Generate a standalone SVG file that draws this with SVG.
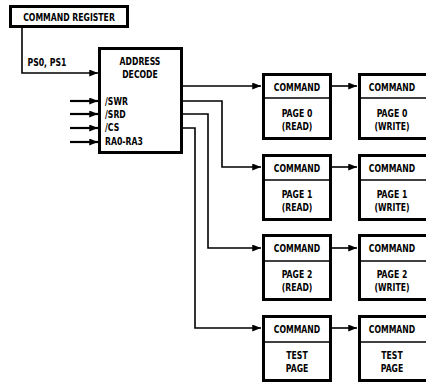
<svg xmlns="http://www.w3.org/2000/svg" width="426" height="383" viewBox="0 0 426 383">
<defs>
<marker id="ah" viewBox="0 0 10 8" refX="10" refY="4" markerWidth="9" markerHeight="7" markerUnits="userSpaceOnUse" orient="auto">
<path d="M0,0 L10,4 L0,8 z" fill="#000"/>
</marker>
<style>
.box{fill:#fff;stroke:#000;stroke-width:3}
.div{stroke:#000;stroke-width:1.6}
.ln{fill:none;stroke:#000;stroke-width:1.6}
.in{fill:none;stroke:#000;stroke-width:2.2}
text{font-family:"DejaVu Sans Condensed","Liberation Sans",sans-serif;font-weight:bold;font-size:10px;fill:#000;transform-box:fill-box;transform:scaleX(0.86)}
.c{text-anchor:middle;transform-origin:center}
.l{transform-origin:left center}
</style>
</defs>
<rect width="426" height="383" fill="#fff"/>
<g id="command-register">
<rect class="box" x="10.5" y="6.5" width="117" height="20"/>
<text class="c" x="69" y="21">COMMAND REGISTER</text>
</g>
<g id="address-decode">
<rect class="box" x="99.5" y="48.5" width="82" height="104"/>
<text class="c" x="140" y="65">ADDRESS</text>
<text class="c" x="140" y="78">DECODE</text>
<text class="l" x="105" y="105.5">/SWR</text>
<text class="l" x="105" y="118.5">/SRD</text>
<text class="l" x="105" y="131.5">/CS</text>
<text class="l" x="105" y="145">RA0-RA3</text>
</g>
<g id="connectors">
<path class="ln" d="M22,27 V73 H98" marker-end="url(#ah)"/>
<text class="l" x="27.5" y="66">PS0, PS1</text>
<path class="in" d="M70,101 H98" marker-end="url(#ah)"/>
<path class="in" d="M70,114 H98" marker-end="url(#ah)"/>
<path class="in" d="M70,128 H98" marker-end="url(#ah)"/>
<path class="in" d="M70,142 H98" marker-end="url(#ah)"/>
<path class="ln" d="M183,86 H261" marker-end="url(#ah)"/>
<path class="ln" d="M183,101 H222 V167 H261" marker-end="url(#ah)"/>
<path class="ln" d="M183,114 H208 V248 H261" marker-end="url(#ah)"/>
<path class="ln" d="M183,128 H195 V328 H261" marker-end="url(#ah)"/>
<path class="ln" d="M332,86 H357" marker-end="url(#ah)"/>
<path class="ln" d="M332,167 H357" marker-end="url(#ah)"/>
<path class="ln" d="M332,248 H357" marker-end="url(#ah)"/>
<path class="ln" d="M332,328 H357" marker-end="url(#ah)"/>
</g>
<g id="page0-read">
<rect class="box" x="263.5" y="74.5" width="67" height="64"/>
<line class="div" x1="263" y1="98" x2="331" y2="98"/>
<text class="c" x="297" y="91.5">COMMAND</text>
<text class="c" x="297" y="117.5">PAGE 0</text>
<text class="c" x="297" y="130">(READ)</text>
</g>
<g id="page0-write">
<rect class="box" x="359.5" y="74.5" width="70" height="64"/>
<line class="div" x1="359" y1="98" x2="430" y2="98"/>
<text class="c" x="392" y="91.5">COMMAND</text>
<text class="c" x="392" y="117.5">PAGE 0</text>
<text class="c" x="392" y="130">(WRITE)</text>
</g>
<g id="page1-read">
<rect class="box" x="263.5" y="155.5" width="67" height="64"/>
<line class="div" x1="263" y1="180" x2="331" y2="180"/>
<text class="c" x="297" y="172.5">COMMAND</text>
<text class="c" x="297" y="198.5">PAGE 1</text>
<text class="c" x="297" y="211">(READ)</text>
</g>
<g id="page1-write">
<rect class="box" x="359.5" y="155.5" width="70" height="64"/>
<line class="div" x1="359" y1="180" x2="430" y2="180"/>
<text class="c" x="392" y="172.5">COMMAND</text>
<text class="c" x="392" y="198.5">PAGE 1</text>
<text class="c" x="392" y="211">(WRITE)</text>
</g>
<g id="page2-read">
<rect class="box" x="263.5" y="235.5" width="67" height="64"/>
<line class="div" x1="263" y1="261" x2="331" y2="261"/>
<text class="c" x="297" y="252.5">COMMAND</text>
<text class="c" x="297" y="278.5">PAGE 2</text>
<text class="c" x="297" y="291">(READ)</text>
</g>
<g id="page2-write">
<rect class="box" x="359.5" y="235.5" width="70" height="64"/>
<line class="div" x1="359" y1="261" x2="430" y2="261"/>
<text class="c" x="392" y="252.5">COMMAND</text>
<text class="c" x="392" y="278.5">PAGE 2</text>
<text class="c" x="392" y="291">(WRITE)</text>
</g>
<g id="test-page-read">
<rect class="box" x="263.5" y="316.5" width="67" height="64"/>
<line class="div" x1="263" y1="342" x2="331" y2="342"/>
<text class="c" x="297" y="333.5">COMMAND</text>
<text class="c" x="297" y="359.5">TEST</text>
<text class="c" x="297" y="372">PAGE</text>
</g>
<g id="test-page-write">
<rect class="box" x="359.5" y="316.5" width="70" height="64"/>
<line class="div" x1="359" y1="342" x2="430" y2="342"/>
<text class="c" x="392" y="333.5">COMMAND</text>
<text class="c" x="392" y="359.5">TEST</text>
<text class="c" x="392" y="372">PAGE</text>
</g>
</svg>
